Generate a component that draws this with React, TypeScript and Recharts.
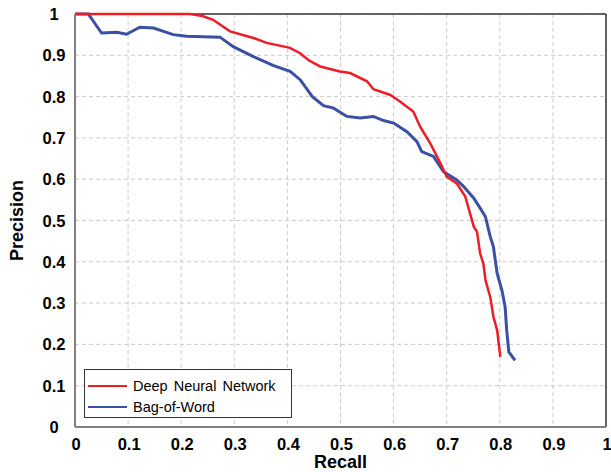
import React from 'react';
import { LineChart, Line, XAxis, YAxis, CartesianGrid, ReferenceLine } from 'recharts';

const xTicks = [0, 0.1, 0.2, 0.3, 0.4, 0.5, 0.6, 0.7, 0.8, 0.9, 1];
const yTicks = [0, 0.1, 0.2, 0.3, 0.4, 0.5, 0.6, 0.7, 0.8, 0.9, 1];

const dnnRecall = [0, 0.1, 0.2, 0.217, 0.24, 0.26, 0.292, 0.336, 0.361, 0.405, 0.424, 0.44, 0.462, 0.499, 0.518, 0.55, 0.562, 0.594, 0.612, 0.637, 0.65, 0.669, 0.688, 0.7, 0.719, 0.735, 0.744, 0.751, 0.757, 0.763, 0.769, 0.773, 0.782, 0.788, 0.795, 0.801];
const dnnPrecision = [1, 1, 1, 1, 0.995, 0.986, 0.958, 0.942, 0.93, 0.918, 0.905, 0.888, 0.873, 0.861, 0.857, 0.837, 0.818, 0.804, 0.788, 0.764, 0.727, 0.687, 0.639, 0.606, 0.59, 0.558, 0.517, 0.485, 0.473, 0.42, 0.396, 0.356, 0.315, 0.267, 0.234, 0.17];

const bowRecall = [0, 0.025, 0.05, 0.079, 0.097, 0.122, 0.148, 0.185, 0.21, 0.273, 0.298, 0.336, 0.374, 0.405, 0.424, 0.447, 0.468, 0.487, 0.512, 0.537, 0.562, 0.581, 0.6, 0.625, 0.644, 0.653, 0.675, 0.694, 0.719, 0.732, 0.751, 0.763, 0.773, 0.782, 0.788, 0.795, 0.804, 0.81, 0.813, 0.817, 0.826, 0.829];
const bowPrecision = [1, 1, 0.954, 0.956, 0.951, 0.968, 0.966, 0.95, 0.946, 0.944, 0.921, 0.897, 0.875, 0.861, 0.841, 0.8, 0.778, 0.772, 0.752, 0.748, 0.752, 0.742, 0.736, 0.715, 0.691, 0.667, 0.655, 0.618, 0.598, 0.582, 0.554, 0.53, 0.509, 0.461, 0.436, 0.372, 0.331, 0.291, 0.234, 0.182, 0.166, 0.162];

const seriesNames = ['Deep Neural Network', 'Bag-of-Word'];
const seriesColors = ['#ee1c25', '#3a50a4'];

const dnnData = dnnRecall.map((r, i) => ({ recall: r, precision: dnnPrecision[i] }));
const bowData = bowRecall.map((r, i) => ({ recall: r, precision: bowPrecision[i] }));

const FONT = '"Liberation Sans", Arial, sans-serif';

const fmt = (v: number) => (v === 0 ? '0' : v === 1 ? '1' : v.toFixed(1));

const YTick = (props: any) => {
  const { y, payload } = props;
  return (
    <text x={54} y={y} textAnchor="middle" dominantBaseline="central" fontFamily={FONT} fontWeight="bold" fontSize={16.5} fill="#000">
      {fmt(payload.value)}
    </text>
  );
};

const XTick = (props: any) => {
  const { x, payload } = props;
  return (
    <text x={x + 1} y={444} textAnchor="middle" dominantBaseline="central" fontFamily={FONT} fontWeight="bold" fontSize={16.5} fill="#000">
      {fmt(payload.value)}
    </text>
  );
};

export default function App() {
  return (
    <div style={{ position: 'absolute', left: 0, top: 0, width: 611, height: 472, background: '#fff' }}>
      <LineChart width={611} height={472} margin={{ top: 14, right: 5, bottom: 0, left: 0 }}>
        <CartesianGrid stroke="#cccccc" strokeDasharray="4 3" />
        <XAxis
          type="number"
          dataKey="recall"
          domain={[0, 1]}
          ticks={xTicks}
          allowDuplicatedCategory={false}
          height={45}
          tick={<XTick />}
          tickLine={false}
          axisLine={{ stroke: '#808080', strokeWidth: 2 }}
          label={{ value: 'Recall', position: 'insideBottom', offset: 4, style: { fontFamily: FONT, fontWeight: 'bold', fontSize: 18, fill: '#000' } }}
        />
        <YAxis
          type="number"
          dataKey="precision"
          domain={[0, 1]}
          ticks={yTicks}
          width={75}
          tick={<YTick />}
          tickLine={false}
          axisLine={{ stroke: '#808080', strokeWidth: 2 }}
          label={{ value: 'Precision', angle: -90, position: 'insideLeft', offset: 17, style: { fontFamily: FONT, fontWeight: 'bold', fontSize: 18, fill: '#000', textAnchor: 'middle' } }}
        />
        <ReferenceLine y={1} stroke="#333" strokeWidth={1.5} />
        <ReferenceLine x={1} stroke="#333" strokeWidth={1.5} />
        <Line data={bowData} dataKey="precision" name={seriesNames[1]} stroke={seriesColors[1]} strokeWidth={3} dot={false} isAnimationActive={false} type="linear" />
        <Line data={dnnData} dataKey="precision" name={seriesNames[0]} stroke={seriesColors[0]} strokeWidth={2.5} dot={false} isAnimationActive={false} type="linear" />
      </LineChart>
      <div
        style={{
          position: 'absolute',
          left: 84,
          top: 369,
          width: 208,
          height: 49,
          border: '1px solid #333',
          background: '#fff',
          boxSizing: 'border-box',
          fontFamily: FONT,
          fontSize: 14.5,
        }}
      >
        {seriesNames.map((n, i) => (
          <div key={n} style={{ position: 'absolute', left: 3, top: 6 + i * 21, height: 20, display: 'flex', alignItems: 'center' }}>
            <span style={{ display: 'inline-block', width: 39, height: 2, background: seriesColors[i], marginRight: 6 }} />
            <span style={{ wordSpacing: 2 }}>{n}</span>
          </div>
        ))}
      </div>
    </div>
  );
}
